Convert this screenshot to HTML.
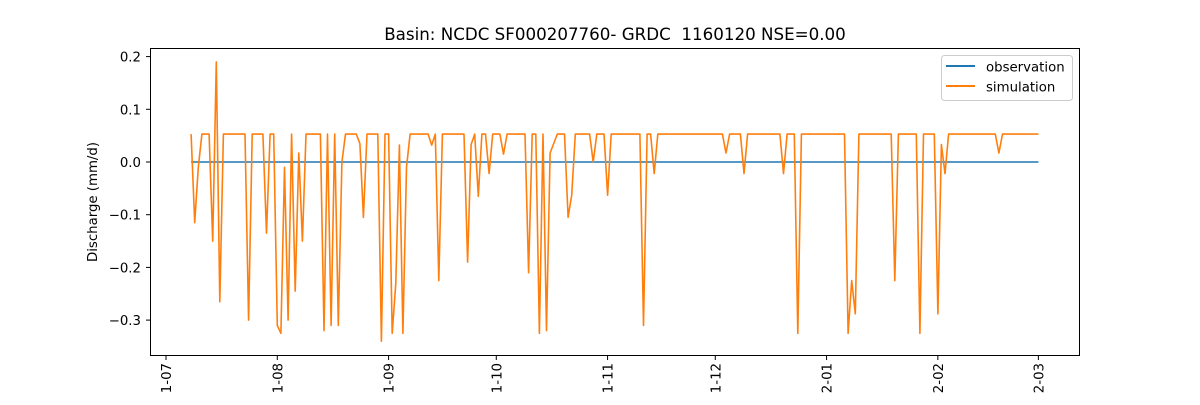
<!DOCTYPE html>
<html><head><meta charset="utf-8"><style>
html,body{margin:0;padding:0;background:#fff;}
svg text{font-family:"DejaVu Sans","Liberation Sans",sans-serif;fill:#000;}
</style></head><body>
<svg id="chart" width="1200" height="400" xmlns="http://www.w3.org/2000/svg">
<text x="615" y="40" font-size="16.7" text-anchor="middle" style="white-space:pre">Basin: NCDC SF000207760- GRDC&#160; 1160120 NSE=0.00</text>
<rect x="150.5" y="48.5" width="929" height="307" fill="none" stroke="#000" stroke-width="1"/>
<g id="yticks"></g>
<g id="xticks"></g>
<text transform="translate(97,202) rotate(-90)" font-size="13.3" text-anchor="middle">Discharge (mm/d)</text>
<g id="series"></g>
<g>
<rect x="941.5" y="55.5" width="131" height="45" rx="3" fill="#fff" stroke="#ccc"/>
<line x1="946" y1="66" x2="975" y2="66" stroke="#1f77b4" stroke-width="2"/>
<text x="986" y="71.5" font-size="13.3">observation</text>
<line x1="946" y1="86" x2="975" y2="86" stroke="#ff7f0e" stroke-width="2"/>
<text x="986" y="91.5" font-size="13.3">simulation</text>
</g>
</svg>
<script>
const H = 0.053;
const simDays = [7,8,9,10,12,13,14,15,16,22,23,24,27,28,29,30,31,32,33,34,35,36,37,38,39,43,44,45,46,47,48,49,50,53,54,55,56,59,60,61,62,63,64,65,66,67,68,73,74,75,76,77,83,84,85,86,87,88,89,90,91,93,94,95,100,101,102,103,104,105,106,107,109,111,112,113,114,118,119,120,122,123,124,132,133,134,135,136,137,155,156,157,160,161,162,171,172,173,175,176,177,189,190,191,192,193,202,203,204,209,210,211,214,215,216,217,218,231,232,233,243];
const simValues = [0.053,-0.115,-0.01,0.053,0.053,-0.15,0.19,-0.265,0.053,0.053,-0.30,0.053,0.053,-0.135,0.053,0.053,-0.31,-0.325,-0.01,-0.30,0.053,-0.245,0.017,-0.15,0.053,0.053,-0.32,0.053,-0.31,0.053,-0.31,0,0.053,0.053,0.035,-0.105,0.053,0.053,-0.34,0.053,0.053,-0.325,-0.23,0.032,-0.325,-0.01,0.053,0.053,0.032,0.053,-0.225,0.053,0.053,-0.19,0.033,0.053,-0.065,0.053,0.053,-0.022,0.053,0.053,0.015,0.053,0.053,-0.21,0.053,0.053,-0.325,0.053,-0.32,0.017,0.053,0.053,-0.105,-0.063,0.053,0.053,0.0,0.053,0.053,-0.063,0.053,0.053,-0.31,0.053,0.053,-0.022,0.053,0.053,0.017,0.053,0.053,-0.022,0.053,0.053,-0.022,0.053,0.053,-0.325,0.053,0.053,-0.325,-0.225,-0.288,0.053,0.053,-0.225,0.053,0.053,-0.325,0.053,0.053,-0.288,0.033,-0.022,0.053,0.053,0.017,0.053,0.053];
const obsDays = [7,243];
const obsValues = [0,0];
const yTicks = [0.2,0.1,0.0,-0.1,-0.2,-0.3];
const yTickLabels = ["0.2","0.1","0.0","\u22120.1","\u22120.2","\u22120.3"];
const monthDays = [0,31,62,92,123,153,184,215,243];
const monthLabels = ["1-07","1-08","1-09","1-10","1-11","1-12","2-01","2-02","2-03"];

const NS = "http://www.w3.org/2000/svg";
function xScale(d){ return 166 + d*3.59; }
function yScale(v){ return 162 - v*527; }

const yg = document.getElementById('yticks');
yTicks.forEach((t,i)=>{
  const y = yScale(t);
  const l = document.createElementNS(NS,'line');
  
  
  l.setAttribute('x1',146); l.setAttribute('x2',150); l.setAttribute('y1',y); l.setAttribute('y2',y);
  l.setAttribute('stroke','#000');
  yg.appendChild(l);
  const tx = document.createElementNS(NS,'text');
  
  
  tx.setAttribute('x',141); tx.setAttribute('y',y+5);
  tx.setAttribute('font-size','13.3'); tx.setAttribute('text-anchor','end');
  tx.textContent = yTickLabels[i];
  yg.appendChild(tx);
});
const xg = document.getElementById('xticks');
monthDays.forEach((d,i)=>{
  const x = xScale(d);
  const l = document.createElementNS(NS,'line');
  
  
  l.setAttribute('x1',x); l.setAttribute('x2',x); l.setAttribute('y1',356); l.setAttribute('y2',360);
  l.setAttribute('stroke','#000');
  xg.appendChild(l);
  const tx = document.createElementNS(NS,'text');
  
  
  tx.setAttribute('transform','translate('+(x+5)+',363) rotate(-90)');
  tx.setAttribute('font-size','13.3'); tx.setAttribute('text-anchor','end');
  tx.textContent = monthLabels[i];
  xg.appendChild(tx);
});
const sg = document.getElementById('series');
function addLine(days, vals, color, name){
  const p = document.createElementNS(NS,'polyline');
  
  
  p.setAttribute('points', days.map((d,i)=>xScale(d).toFixed(1)+','+yScale(vals[i]).toFixed(1)).join(' '));
  p.setAttribute('fill','none'); p.setAttribute('stroke',color);
  p.setAttribute('stroke-width','1.6'); p.setAttribute('stroke-linejoin','round');
  sg.appendChild(p);
}
addLine(obsDays, obsValues, '#1f77b4', 'observation-line');
addLine(simDays, simValues, '#ff7f0e', 'simulation-line');
</script>
</body></html>
